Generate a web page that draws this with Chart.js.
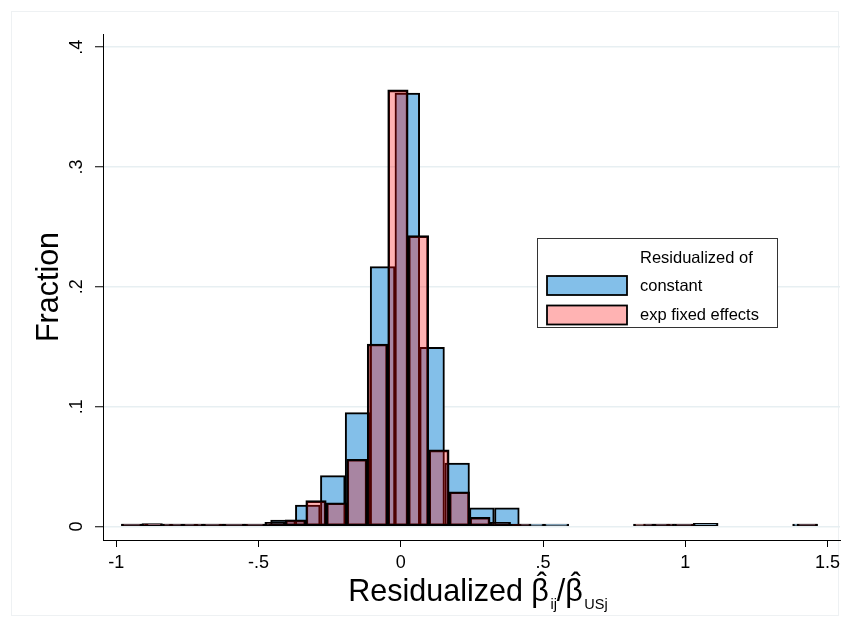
<!DOCTYPE html>
<html><head><meta charset="utf-8">
<script src="https://cdn.jsdelivr.net/npm/chart.js@4.4.1/dist/chart.umd.min.js"></script>
<style>html,body{margin:0;padding:0;background:#fff}#wrap{width:850px;height:627px;position:relative}</style>
</head><body><div id="wrap"><canvas id="c" width="850" height="627"></canvas></div>
<script>
// ---- data ----
const blueBinCenters = [-0.938,-0.851,-0.764,-0.676,-0.589,-0.501,-0.414,-0.327,-0.239,-0.152,-0.064,0.023,0.110,0.198,0.285,0.373,0.460,0.547,0.635,0.722,0.810,0.897,0.984,1.072,1.159,1.247,1.334,1.421];
const blueFraction = [0.0013,0.0013,0.0013,0.0013,0.0015,0.002,0.0054,0.0179,0.0424,0.095,0.2169,0.3616,0.1496,0.0528,0.0155,0.0155,0.0013,0.0013,null,null,null,0.0013,0.0013,0.0027,null,null,null,0.0013];
const redBinCenters = [-0.946,-0.874,-0.802,-0.730,-0.658,-0.586,-0.514,-0.442,-0.370,-0.298,-0.226,-0.154,-0.082,-0.010,0.062,0.134,0.206,0.278,0.350,0.422,0.494,0.566,0.638,0.710,0.782,0.854,0.926,0.998,1.070,1.141,1.213,1.285,1.357,1.429];
const redFraction = [0.0013,0.0025,0.0013,0.0013,0.0013,0.002,0.002,0.0035,0.0055,0.0215,0.0198,0.0561,0.1523,0.3644,0.2427,0.0639,0.029,0.0077,0.0035,0.002,null,null,null,null,null,0.0013,0.0013,0.0013,null,null,null,null,null,0.0013];
const xTickValues = [-1,-0.5,0,0.5,1,1.5];
const xTickLabels = ['-1','-.5','0','.5','1','1.5'];
const yTickValues = [0,0.1,0.2,0.3,0.4];
const yTickLabels = ['0','.1','.2','.3','.4'];
const seriesNames = ['constant','exp fixed effects'];
const legendTitle = 'Residualized of';
const yTitle = 'Fraction';
const xTitleParts = ['Residualized ', 'β', 'ij', '/', 'β', 'USj'];

// ---- style ----
const FONT = '"Liberation Sans", Arial, Helvetica, sans-serif';
const BLUE = 'rgb(131,191,233)';
const RED = 'rgba(255,0,0,0.3)';
const RED_ON_WHITE = 'rgb(255,179,179)';
const GRID = '#e7eff2';
const X_MIN = -1.0468, X_MAX = 1.544, Y_MIN = -0.0113, Y_MAX = 0.411;

// empty bins (null) are not drawn
const toPts = (xs, ys) => xs.map((x, i) => ({x: x, y: ys[i]})).filter(p => p.y !== null);
const pickLabel = (vals, labs) => v => { const i = vals.findIndex(t => Math.abs(t - v) < 1e-9); return i < 0 ? '' : labs[i]; };

const overlay = {
  id: 'overlay',
  beforeDraw(chart) {
    const ctx = chart.ctx;
    ctx.save();
    ctx.fillStyle = '#fff';
    ctx.fillRect(0, 0, chart.width, chart.height);
    ctx.strokeStyle = '#eef1f3';
    ctx.lineWidth = 1;
    ctx.strokeRect(11.5, 11.5, 827, 604);
    ctx.restore();
  },
  afterDraw(chart) {
    const ctx = chart.ctx;
    ctx.save();
    // legend
    ctx.strokeStyle = '#333';
    ctx.lineWidth = 1;
    ctx.fillStyle = '#fff';
    ctx.fillRect(537.5, 238.5, 240, 89);
    ctx.strokeRect(537.5, 238.5, 240, 89);
    ctx.lineWidth = 1.8;
    ctx.strokeStyle = '#000';
    ctx.fillStyle = BLUE;
    ctx.fillRect(547, 276, 80, 19);
    ctx.strokeRect(547, 276, 80, 19);
    ctx.fillStyle = RED_ON_WHITE;
    ctx.fillRect(547, 305.5, 80, 19);
    ctx.strokeRect(547, 305.5, 80, 19);
    ctx.fillStyle = '#000';
    ctx.font = '16.5px ' + FONT;
    ctx.textBaseline = 'middle';
    ctx.textAlign = 'left';
    ctx.fillText(legendTitle, 640, 258);
    ctx.fillText(seriesNames[0], 640, 286);
    ctx.fillText(seriesNames[1], 640, 315.5);

    // x-axis title with hats and subscripts
    const mainF = '30.5px ' + FONT, subF = '14.5px ' + FONT;
    const styles = [
      {f: mainF, dy: 0}, {f: mainF, dy: 0, hat: true}, {f: subF, dy: 8},
      {f: mainF, dy: 0}, {f: mainF, dy: 0, hat: true}, {f: subF, dy: 8}
    ];
    let total = 0;
    const widths = xTitleParts.map((t, i) => { ctx.font = styles[i].f; const w = ctx.measureText(t).width + (styles[i].hat ? 1.5 : 0); total += w; return w; });
    const ca = chart.chartArea;
    let x = (ca.left + ca.right) / 2 + 6.5 - total / 2;
    const base = 601;
    ctx.textBaseline = 'alphabetic';
    xTitleParts.forEach((t, i) => {
      ctx.font = styles[i].f;
      ctx.textAlign = 'left';
      ctx.fillText(t, x, base + styles[i].dy);
      if (styles[i].hat) {
        ctx.textAlign = 'center';
        ctx.fillText('\u02C6', x + widths[i] / 2 + 1, base - 6);
      }
      x += widths[i];
    });
    ctx.restore();
  }
};

const barStyle = {grouped: false, borderColor: '#000', borderWidth: 2, borderSkipped: false,
  categoryPercentage: 1, barPercentage: 1, minBarLength: 2.5};

new Chart(document.getElementById('c'), {
  type: 'bar',
  data: {
    datasets: [
      Object.assign({label: seriesNames[0], data: toPts(blueBinCenters, blueFraction), xAxisID: 'x', order: 2, backgroundColor: BLUE}, barStyle),
      Object.assign({label: seriesNames[1], data: toPts(redBinCenters, redFraction), xAxisID: 'x2', order: 1, backgroundColor: RED}, barStyle)
    ]
  },
  options: {
    responsive: false,
    animation: false,
    devicePixelRatio: 1,
    layout: {padding: {left: 0, right: 10, top: 34, bottom: 0}},
    plugins: {legend: {display: false}, tooltip: {enabled: false}},
    scales: {
      x: {
        type: 'linear', position: 'bottom', min: X_MIN, max: X_MAX, offset: false,
        afterBuildTicks: s => { s.ticks = xTickValues.map(v => ({value: v})); },
        afterFit: s => { s.height = 87; },
        ticks: {callback: pickLabel(xTickValues, xTickLabels), color: '#000', font: {family: FONT, size: 18}, padding: 5, maxRotation: 0, autoSkip: false},
        grid: {offset: false, drawOnChartArea: false, drawTicks: true, tickLength: 7, tickColor: '#000', tickWidth: 1},
        border: {display: true, color: '#000', width: 1}
      },
      x2: {
        type: 'linear', display: false, min: X_MIN, max: X_MAX, offset: false,
        grid: {offset: false},
        afterBuildTicks: s => { s.ticks = xTickValues.map(v => ({value: v})); }
      },
      y: {
        type: 'linear', position: 'left', min: Y_MIN, max: Y_MAX,
        afterBuildTicks: s => { s.ticks = yTickValues.map(v => ({value: v})); },
        afterFit: s => { s.width = 103; },
        ticks: {callback: pickLabel(yTickValues, yTickLabels), color: '#000', font: {family: FONT, size: 18}, minRotation: 90, maxRotation: 90, crossAlign: 'center', padding: 10},
        grid: {color: GRID, lineWidth: 1.5, drawTicks: true, tickLength: 8, tickColor: '#000', tickWidth: 1},
        border: {display: true, color: '#000', width: 1},
        title: {display: true, text: yTitle, color: '#000', font: {family: FONT, size: 30.5, lineHeight: 1.2}, padding: {top: 31.7, bottom: 0}}
      }
    }
  },
  plugins: [overlay]
});
</script></body></html>
